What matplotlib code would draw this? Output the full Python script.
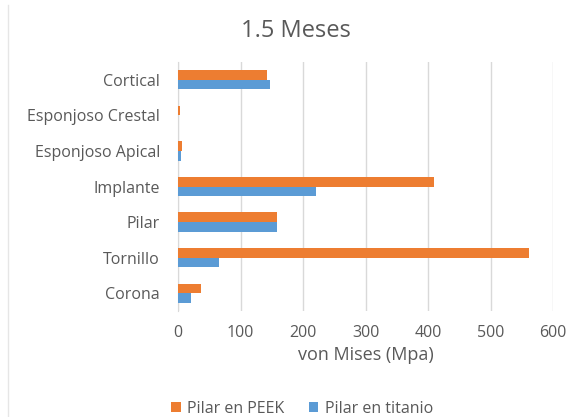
import numpy as np
import matplotlib
matplotlib.use("Agg")
from matplotlib import pyplot as plt
from matplotlib.lines import Line2D

# data
categories = ["Cortical", "Esponjoso Crestal", "Esponjoso Apical",
              "Implante", "Pilar", "Tornillo", "Corona"]
peek = [143, 3, 6, 410, 158, 561, 36]
titanio = [147, 0.5, 5, 221, 158, 65, 21]
xticks = [0, 100, 200, 300, 400, 500, 600]

grey = "#595959"
plt.rcParams["font.family"] = ["Open Sans", "DejaVu Sans"]

fig = plt.figure(figsize=(5.7, 4.17), dpi=100)
ax = fig.add_axes([178 / 570, 1 - 311 / 417, (553 - 178) / 570, (311 - 62) / 417])

y = np.arange(len(categories))
h = 0.27
ax.barh(y - h / 2, peek, height=h, color="#ED7D31", label="Pilar en PEEK", zorder=3)
ax.barh(y + h / 2, titanio, height=h, color="#5B9BD5", label="Pilar en titanio", zorder=3)

ax.set_ylim(len(categories) - 0.5, -0.5)
ax.set_xlim(0, 600)
ax.set_xticks(xticks)
ax.set_yticks(y)
ax.set_yticklabels(categories)
ax.tick_params(axis="both", length=0, labelsize=11.5, colors=grey)
ax.tick_params(axis="y", pad=13)
ax.tick_params(axis="x", pad=10)
ax.grid(axis="x", color="#D9D9D9", linewidth=1, zorder=0)
for s in ["top", "right", "bottom"]:
    ax.spines[s].set_visible(False)
ax.spines["left"].set_color("#D9D9D9")

ax.set_xlabel("von Mises (Mpa)", fontsize=13, color=grey, labelpad=4)
fig.text(0.52, 1 - 31 / 417, "1.5 Meses", ha="center", va="center", fontsize=17, color=grey)

leg = fig.legend(loc="center", bbox_to_anchor=(0.53, 1 - 409 / 417), ncol=2, frameon=False,
                 fontsize=11.5, handlelength=0.6, handleheight=0.6, columnspacing=1.5,
                 handletextpad=0.4)
for t in leg.get_texts():
    t.set_color(grey)

fig.add_artist(Line2D([8 / 570, 8 / 570], [0, 1 - 5 / 417], color="#E6E6E6", linewidth=1))

fig.savefig("out.png", dpi=100)
